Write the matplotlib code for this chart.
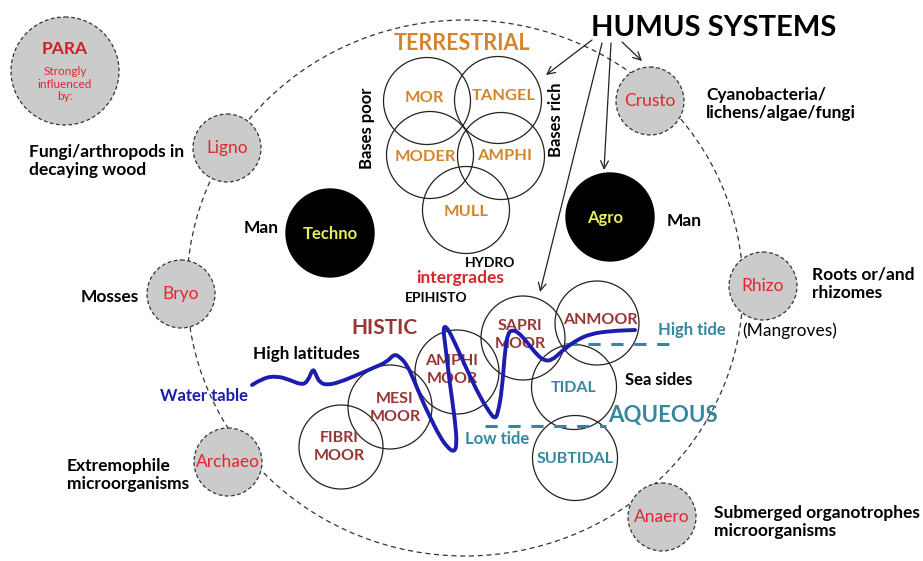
import matplotlib.pyplot as plt
from matplotlib.patches import Circle, Ellipse, PathPatch
from matplotlib.path import Path

plt.rcParams['font.family'] = ['Lato', 'DejaVu Sans']

# --- diagram content (pixel coordinates, y downwards) ---
terrestrial_names = ["MOR", "TANGEL", "MODER", "AMPHI", "MULL"]
terrestrial_xy = [(427, 101), (498, 100), (430, 155), (501, 156), (466, 210)]
terrestrial_text_xy = [(424, 98), (504, 96), (425, 157), (505, 156), (466, 212)]

histic_names = ["FIBRI\nMOOR", "MESI\nMOOR", "AMPHI\nMOOR", "SAPRI\nMOOR", "ANMOOR"]
histic_xy = [(341, 447), (390, 407), (457, 372), (523, 338), (597, 323)]
histic_text_xy = [(339, 447), (395, 408), (452, 370), (520, 335), (600, 320)]

aqueous_names = ["TIDAL", "SUBTIDAL"]
aqueous_xy = [(574, 387), (575, 458)]

para_names = ["Ligno", "Bryo", "Archaeo", "Crusto", "Rhizo", "Anaero"]
para_xy = [(227, 148), (181, 294), (228, 462), (650, 101), (763, 286), (662, 517)]
para_notes = ["Fungi/arthropods in\ndecaying wood", "Mosses",
              "Extremophile\nmicroorganisms", "Cyanobacteria/\nlichens/algae/fungi",
              "Roots or/and\nrhizomes", "Submerged organotrophes\nmicroorganisms"]
para_note_xy = [(29, 161, 'left'), (139, 297, 'right'), (67, 475, 'left'),
                (706, 104, 'left'), (812, 284, 'left'), (714, 522, 'left')]

man_names = ["Techno", "Agro"]
man_xy = [(330, 233), (610, 217)]

# water table trace
water_x = [252, 263, 277, 290, 302, 308, 313, 316, 320, 328, 340, 357, 373, 387,
           394, 400, 407, 413, 422, 430, 440, 448, 454, 457, 455, 450, 445, 443,
           447, 455, 467, 480, 490, 495, 498, 502, 505, 508, 512, 518, 527, 537,
           545, 552, 560, 567, 577, 590, 610, 635]
water_y = [385, 378, 376, 380, 385, 381, 368, 375, 383, 385, 382, 375, 368, 362,
           354, 357, 365, 378, 400, 417, 437, 448, 452, 445, 420, 385, 343, 327,
           327, 343, 370, 397, 413, 419, 413, 390, 350, 333, 330, 332, 342, 355,
           361, 360, 353, 347, 340, 334, 331, 330]

ORANGE = '#d6842b'
BROWN = '#953735'
TEAL = '#3388a0'
RED = '#e2262c'
GREY = '#cbcbcb'
BLUE = '#1c1cae'

fig = plt.figure(figsize=(9.23, 5.61), dpi=100)
ax = fig.add_axes([0, 0, 1, 1])
ax.set_xlim(0, 923)
ax.set_ylim(561, 0)
ax.axis('off')

# big dashed outline
ax.add_patch(Ellipse((465, 288), 556, 536, fill=False, ec='#333333', lw=0.9,
                     ls=(0, (4, 3))))

# arrows from the title
for start, end in [((592, 40), (546, 75)), ((602, 43), (540, 292)),
                   ((611, 43), (604, 170)), ((622, 42), (642, 61))]:
    ax.annotate('', xy=end, xytext=start,
                arrowprops=dict(arrowstyle='->', lw=0.9, color='#222222',
                                mutation_scale=14, shrinkA=0, shrinkB=0))

ax.text(714, 28, "HUMUS SYSTEMS", fontsize=21, fontweight='bold', ha='center', va='center')

# PARA bubble
ax.add_patch(Circle((65, 71), 54, fc=GREY, ec='#333333', lw=0.9, ls=(0, (3, 2))))
ax.text(65, 49, "PARA", color='#d01f25', fontsize=12.5, fontweight='bold', ha='center', va='center')
ax.text(65, 84, "Strongly\ninfluenced\nby:", color=RED, fontsize=8.5, ha='center',
        va='center', linespacing=1.15)

for name, (x, y), note, (nx, ny, al) in zip(para_names, para_xy, para_notes, para_note_xy):
    ax.add_patch(Circle((x, y), 34, fc=GREY, ec='#333333', lw=0.9, ls=(0, (3, 2)), zorder=3))
    ax.text(x, y, name, color=RED, fontsize=12.5, ha='center', va='center', zorder=4)
    ax.text(nx, ny, note, fontsize=12.5, fontweight='bold', ha=al, va='center',
            linespacing=1.2)
ax.text(742, 331, "(Mangroves)", fontsize=12.5, ha='left', va='center')

# terrestrial
ax.text(462, 43, "TERRESTRIAL", color=ORANGE, fontsize=15.5, fontweight='bold', ha='center', va='center')
for (x, y) in terrestrial_xy:
    ax.add_patch(Circle((x, y), 43.5, fill=False, ec='#222222', lw=0.9))
for name, (x, y) in zip(terrestrial_names, terrestrial_text_xy):
    ax.text(x, y, name, color=ORANGE, fontsize=11.8, fontweight='bold', ha='center', va='center')
ax.text(367, 128, "Bases poor", rotation=90, fontsize=12, fontweight='bold', ha='center', va='center')
ax.text(556, 120, "Bases rich", rotation=90, fontsize=12, fontweight='bold', ha='center', va='center')

# man-made
for name, (x, y) in zip(man_names, man_xy):
    ax.add_patch(Circle((x, y), 44, fc='black', ec='black'))
    ax.text(x - 5 if name == "Agro" else x, y + 1, name, color='#e8ee5a', fontsize=12,
            fontweight='bold', ha='center', va='center')
ax.text(261, 228, "Man", fontsize=12.5, fontweight='bold', ha='center', va='center')
ax.text(684, 221, "Man", fontsize=12.5, fontweight='bold', ha='center', va='center')

ax.text(490, 263, "HYDRO", fontsize=10, fontweight='bold', ha='center', va='center')
ax.text(460, 278, "intergrades", color='#d6262a', fontsize=12.5, fontweight='bold', ha='center', va='center')
ax.text(436, 298, "EPIHISTO", fontsize=10, fontweight='bold', ha='center', va='center')

# histic
ax.text(384, 328, "HISTIC", color=BROWN, fontsize=15, fontweight='bold', ha='center', va='center')
for (x, y) in histic_xy:
    ax.add_patch(Circle((x, y), 42, fill=False, ec='#222222', lw=0.9))
for name, (x, y) in zip(histic_names, histic_text_xy):
    ax.text(x, y, name, color=BROWN, fontsize=11.5, fontweight='bold', ha='center',
            va='center', linespacing=1.4)

# aqueous
for name, (x, y) in zip(aqueous_names, aqueous_xy):
    ax.add_patch(Circle((x, y), 42.5, fill=False, ec='#222222', lw=0.9))
    ax.text(x, y + 1, name, color=TEAL, fontsize=11.5, fontweight='bold', ha='center', va='center')
ax.text(663, 415, "AQUEOUS", color=TEAL, fontsize=16, fontweight='bold', ha='center', va='center')
ax.plot([565, 676], [344, 344], color=TEAL, lw=2.2, ls=(0, (4, 3.5)))
ax.plot([485, 606], [426, 426], color=TEAL, lw=2.2, ls=(0, (4, 3.5)))
ax.text(692, 330, "High tide", color=TEAL, fontsize=12, fontweight='bold', ha='center', va='center')
ax.text(497, 439, "Low tide", color=TEAL, fontsize=12, fontweight='bold', ha='center', va='center')
ax.text(659, 380, "Sea sides", fontsize=12, fontweight='bold', ha='center', va='center')
ax.text(306, 354, "High latitudes", fontsize=12.3, fontweight='bold', ha='center', va='center')

# water table: quadratic curve through midpoints of the traced points
pts = list(zip(water_x, water_y))
verts = [pts[0]]
codes = [Path.MOVETO]
for i in range(1, len(pts) - 1):
    mid = ((pts[i][0] + pts[i + 1][0]) / 2, (pts[i][1] + pts[i + 1][1]) / 2)
    verts += [pts[i], mid]
    codes += [Path.CURVE3, Path.CURVE3]
verts.append(pts[-1])
codes.append(Path.LINETO)
ax.add_patch(PathPatch(Path(verts, codes), fill=False, ec=BLUE, lw=2.8,
                       capstyle='round', joinstyle='round', zorder=5))
ax.text(204, 396, "Water table", color=BLUE, fontsize=12, fontweight='bold', ha='center', va='center')

fig.savefig('out.png', dpi=100)
